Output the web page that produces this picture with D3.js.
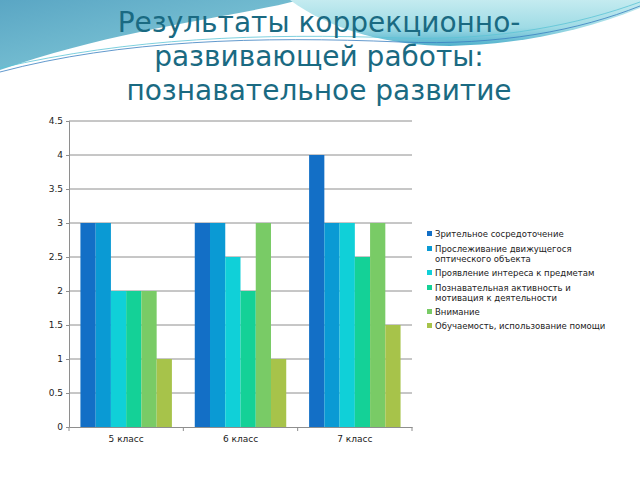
<!DOCTYPE html>
<html>
<head>
<meta charset="utf-8">
<script src="https://cdn.jsdelivr.net/npm/d3@7"></script>
<style>
  body { margin: 0; background: #fff; }
  svg { display: block; font-family: "DejaVu Sans", sans-serif; }
</style>
</head>
<body>
<svg width="640" height="480"></svg>
<script>
// data
const classes = ['5 класс', '6 класс', '7 класс'];
const seriesNames = [
  'Зрительное сосредоточение',
  'Прослеживание движущегося оптического объекта',
  'Проявление интереса к предметам',
  'Познавательная активность и мотивация к деятельности',
  'Внимание',
  'Обучаемость, использование помощи'
];
// legend lines (wrapped as on the slide)
const legendLines = [
  ['Зрительное сосредоточение'],
  ['Прослеживание движущегося', 'оптического объекта'],
  ['Проявление интереса к предметам'],
  ['Познавательная активность и', 'мотивация к деятельности'],
  ['Внимание'],
  ['Обучаемость, использование помощи']
];
const values5 = [3, 3, 2, 2, 2, 1];
const values6 = [3, 3, 2.5, 2, 3, 1];
const values7 = [4, 3, 3, 2.5, 3, 1.5];
const yTicks = [0, 0.5, 1, 1.5, 2, 2.5, 3, 3.5, 4, 4.5];
const colors = ['#136fc6', '#0a9ad4', '#10d0d8', '#14d197', '#79cb66', '#a7c34a'];
const titleLines = ['Результаты коррекционно-', 'развивающей работы:', 'познавательное развитие'];

const svg = d3.select('svg');

// header decoration
const defs = svg.append('defs');
const g1 = defs.append('linearGradient').attr('id', 'gl').attr('x1', 0).attr('y1', 0).attr('x2', 1).attr('y2', 1);
g1.append('stop').attr('offset', 0).attr('stop-color', '#5aa6c4');
g1.append('stop').attr('offset', 1).attr('stop-color', '#8ad0dc');
const g2 = defs.append('linearGradient').attr('id', 'gr').attr('x1', 0).attr('y1', 0).attr('x2', 0).attr('y2', 1);
g2.append('stop').attr('offset', 0).attr('stop-color', '#c4ebf0');
g2.append('stop').attr('offset', 0.6).attr('stop-color', '#9fdbe5');
g2.append('stop').attr('offset', 1).attr('stop-color', '#4fb0cc');

svg.append('path')
  .attr('d', 'M0,0 L300,0 C230,18 120,28 0,70 Z')
  .attr('fill', 'url(#gl)');
svg.append('path')
  .attr('d', 'M290,0 L640,0 L640,8 C580,32 520,44 450,46 C390,46 330,30 290,0 Z')
  .attr('fill', 'url(#gr)');
svg.append('path')
  .attr('d', 'M0,72 C120,40 260,36 400,42 C500,46 580,30 640,6')
  .attr('fill', 'none').attr('stroke', '#3a7fc0').attr('stroke-width', 0.8);
svg.append('path')
  .attr('d', 'M0,68 C130,38 260,33 400,38 C500,41 580,24 640,2')
  .attr('fill', 'none').attr('stroke', '#5cc4d6').attr('stroke-width', 0.8);

// title
svg.append('g').selectAll('text')
  .data(titleLines)
  .join('text')
  .attr('x', 319)
  .attr('y', (d, i) => 32 + i * 34)
  .attr('text-anchor', 'middle')
  .attr('font-size', 28)
  .attr('fill', '#1a6a82')
  .text(d => d);

// chart
const x0 = d3.scaleBand().domain(classes).range([69, 412]).paddingInner(0.2).paddingOuter(0.1);
const x1 = d3.scaleBand().domain(d3.range(seriesNames.length)).range([0, x0.bandwidth()]);
const y = d3.scaleLinear().domain([0, 4.5]).range([427, 121]);

const table = classes.map((c, i) => ({ cls: c, vals: [values5, values6, values7][i] }));

// gridlines
svg.append('g')
  .selectAll('line')
  .data(yTicks.slice(1))
  .join('line')
  .attr('x1', 69).attr('x2', 412)
  .attr('y1', d => y(d)).attr('y2', d => y(d))
  .attr('stroke', '#8e8e8e').attr('stroke-width', 1);

// bars
svg.append('g')
  .selectAll('g')
  .data(table)
  .join('g')
  .attr('transform', d => `translate(${x0(d.cls)},0)`)
  .selectAll('rect')
  .data(d => d.vals)
  .join('rect')
  .attr('x', (d, i) => x1(i))
  .attr('width', x1.bandwidth())
  .attr('y', d => y(d))
  .attr('height', d => y(0) - y(d))
  .attr('fill', (d, i) => colors[i]);

// y axis
const yAxis = svg.append('g')
  .attr('transform', 'translate(69,0)')
  .call(d3.axisLeft(y).tickValues(yTicks).tickFormat(d3.format('')).tickSize(3).tickPadding(3));
yAxis.select('.domain').attr('stroke', '#8e8e8e');
yAxis.selectAll('.tick line').attr('stroke', '#8e8e8e');
yAxis.selectAll('text').attr('font-size', 9).attr('fill', '#222').attr('font-family', '"DejaVu Sans", sans-serif');

// x axis
const xAxis = svg.append('g')
  .attr('transform', 'translate(0,427)')
  .call(d3.axisBottom(x0).tickSize(0).tickPadding(9));
xAxis.select('.domain').attr('stroke', '#8e8e8e');
xAxis.selectAll('text').attr('font-size', 9).attr('fill', '#222').attr('font-family', '"DejaVu Sans", sans-serif');
// boundary ticks between categories
const step = x0.step();
xAxis.append('g').selectAll('line')
  .data(d3.range(classes.length + 1))
  .join('line')
  .attr('x1', d => 69 + d * step).attr('x2', d => 69 + d * step)
  .attr('y1', 0).attr('y2', 4)
  .attr('stroke', '#8e8e8e');

// legend
const legendY = [234, 249, 273, 288, 312, 326];
const legend = svg.append('g')
  .selectAll('g')
  .data(legendLines)
  .join('g')
  .attr('transform', (d, i) => `translate(427,${legendY[i]})`);
legend.append('rect')
  .attr('x', 0).attr('y', -3).attr('width', 5).attr('height', 5)
  .attr('fill', (d, i) => colors[i]);
legend.append('text')
  .attr('x', 8)
  .attr('y', 3)
  .attr('font-size', 8.5)
  .attr('fill', '#222')
  .selectAll('tspan')
  .data(d => d)
  .join('tspan')
  .attr('x', 8)
  .attr('dy', (d, i) => i === 0 ? 0 : 9.5)
  .text(d => d);
</script>
</body>
</html>
